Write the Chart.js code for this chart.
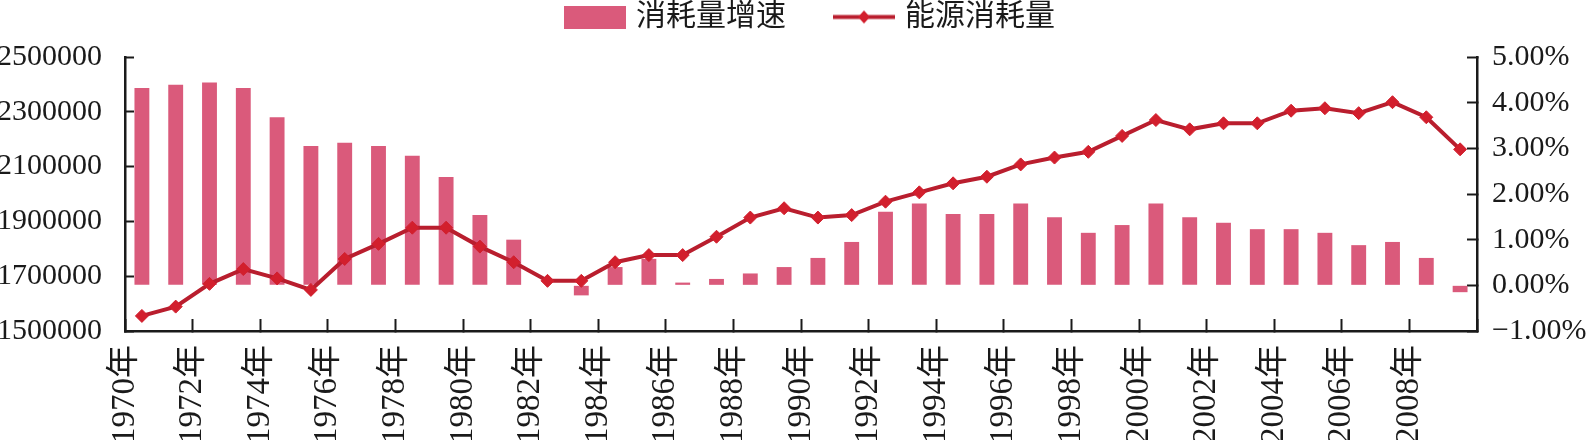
<!DOCTYPE html>
<html>
<head>
<meta charset="utf-8">
<script src="https://cdn.jsdelivr.net/npm/chart.js@4/dist/chart.umd.min.js"></script>
<style>
  html, body { margin: 0; padding: 0; background: #fff; overflow: hidden; }
  #wrap { width: 1586px; height: 440px; }
</style>
</head>
<body>
<div id="wrap"><canvas id="energyChart" width="1586" height="440"></canvas></div>
<script>
// years 1970 - 2009
const years = [
  1970, 1971, 1972, 1973, 1974, 1975, 1976, 1977, 1978, 1979,
  1980, 1981, 1982, 1983, 1984, 1985, 1986, 1987, 1988, 1989,
  1990, 1991, 1992, 1993, 1994, 1995, 1996, 1997, 1998, 1999,
  2000, 2001, 2002, 2003, 2004, 2005, 2006, 2007, 2008, 2009
];

// 消耗量增速 (%), right axis
const growth = [
  4.32, 4.39, 4.44, 4.32, 3.68, 3.05, 3.12, 3.05, 2.84, 2.37,
  1.54, 1.00, 0.00, -0.22, 0.40, 0.58, 0.06, 0.14, 0.26, 0.40,
  0.60, 0.95, 1.61, 1.79, 1.56, 1.56, 1.79, 1.49, 1.15, 1.32,
  1.79, 1.49, 1.37, 1.23, 1.23, 1.15, 0.88, 0.95, 0.60, -0.15
];

// 能源消耗量, left axis
const consumption = [
  1555000, 1589000, 1672000, 1726000, 1692000, 1650000, 1763000, 1818000, 1877000, 1877000,
  1808000, 1751000, 1683000, 1683000, 1751000, 1777000, 1777000, 1844000, 1914000, 1948000,
  1914000, 1923000, 1972000, 2006000, 2039000, 2063000, 2108000, 2133000, 2154000, 2212000,
  2270000, 2236000, 2258000, 2258000, 2304000, 2313000, 2295000, 2335000, 2280000, 2163000
];

const leftTicks = [1500000, 1700000, 1900000, 2100000, 2300000, 2500000];
const rightTicks = [-1, 0, 1, 2, 3, 4, 5];

const barColor = '#da5a7b';
const lineColor = '#b91e2e';
const markColor = '#d21f2d';
const axisColor = '#1a1a1a';
const textColor = '#1a1a1a';
const serif = "'Liberation Serif', 'Noto Sans CJK SC', serif";

// legend swatches
function barSwatch() {
  const c = document.createElement('canvas');
  c.width = 62; c.height = 23;
  const g = c.getContext('2d');
  g.fillStyle = barColor;
  g.fillRect(0, 0, 62, 23);
  return c;
}
function lineSwatch() {
  const c = document.createElement('canvas');
  c.width = 62; c.height = 23;
  const g = c.getContext('2d');
  g.strokeStyle = lineColor;
  g.lineWidth = 4;
  g.beginPath(); g.moveTo(0, 11.5); g.lineTo(62, 11.5); g.stroke();
  g.fillStyle = markColor;
  g.beginPath();
  g.moveTo(31, 5); g.lineTo(37, 11.5); g.lineTo(31, 18); g.lineTo(25, 11.5);
  g.closePath(); g.fill();
  return c;
}
const swatches = [barSwatch(), lineSwatch()];

// keep the legend items wide apart but close to the top edge
const legendSpacing = {
  id: 'legendSpacing',
  afterInit(chart) {
    const legend = chart.legend;
    if (!legend) return;
    const fit = legend.fit;
    legend.fit = function () { fit.call(this); this.height = 57; };
    const inner = legend._draw;
    legend._draw = function () {
      this.ctx.save();
      this.ctx.translate(19, -50);
      inner.call(this);
      this.ctx.restore();
    };
  }
};

const ctx = document.getElementById('energyChart').getContext('2d');

new Chart(ctx, {
  data: {
    labels: years.map(y => y + '年'),
    datasets: [
      {
        type: 'line',
        label: '能源消耗量',
        data: consumption,
        yAxisID: 'yLeft',
        xAxisID: 'x',
        borderColor: lineColor,
        borderWidth: 4,
        pointStyle: 'rectRot',
        pointRadius: 6.5,
        pointBackgroundColor: markColor,
        pointBorderColor: markColor,
        pointBorderWidth: 1,
        tension: 0,
        order: 1
      },
      {
        type: 'bar',
        label: '消耗量增速',
        data: growth,
        yAxisID: 'yRight',
        xAxisID: 'x',
        backgroundColor: barColor,
        categoryPercentage: 1,
        barPercentage: 0.44,
        order: 2
      }
    ]
  },
  plugins: [legendSpacing],
  options: {
    responsive: false,
    animation: false,
    layout: { padding: 0 },
    plugins: {
      tooltip: { enabled: false },
      legend: {
        position: 'top',
        align: 'center',
        labels: {
          usePointStyle: true,
          pointStyleWidth: 52,
          boxHeight: 23,
          padding: 52,
          color: textColor,
          font: { family: serif, size: 30 },
          generateLabels: chart => ['消耗量增速', '能源消耗量'].map((text, i) => ({
            text: text,
            pointStyle: swatches[i],
            fillStyle: 'transparent',
            strokeStyle: 'transparent',
            lineWidth: 0,
            hidden: false,
            datasetIndex: i === 0 ? 1 : 0,
            fontColor: textColor
          }))
        }
      }
    },
    scales: {
      x: {
        type: 'category',
        offset: true,
        display: false
      },
      xYears: {
        type: 'linear',
        position: 'bottom',
        min: 0,
        max: years.length,
        afterBuildTicks: axis => {
          const t = [];
          for (let v = 0; v <= years.length; v += 2) t.push({ value: v });
          axis.ticks = t;
        },
        afterFit: axis => { axis.height = 109; },
        border: { display: true, color: axisColor, width: 2.5 },
        grid: {
          drawOnChartArea: false,
          drawTicks: true,
          tickLength: -12,
          tickColor: axisColor,
          tickWidth: 2
        },
        ticks: {
          autoSkip: false,
          minRotation: 90,
          maxRotation: 90,
          padding: 26,
          color: textColor,
          font: { family: serif, size: 33 },
          callback: v => (v < years.length ? years[v] + '年' : '')
        }
      },
      yLeft: {
        type: 'linear',
        position: 'left',
        min: 1500000,
        max: 2500000,
        afterBuildTicks: axis => { axis.ticks = leftTicks.map(v => ({ value: v })); },
        afterFit: axis => { axis.width = 125; },
        border: { display: true, color: axisColor, width: 2.5 },
        grid: {
          drawOnChartArea: false,
          tickLength: -9,
          tickColor: axisColor,
          tickWidth: 2
        },
        ticks: {
          padding: 32,
          color: textColor,
          font: { family: serif, size: 30 },
          callback: v => String(v)
        }
      },
      yRight: {
        type: 'linear',
        position: 'right',
        min: -1,
        max: 5,
        afterBuildTicks: axis => { axis.ticks = rightTicks.map(v => ({ value: v })); },
        afterFit: axis => { axis.width = 109; },
        border: { display: true, color: axisColor, width: 2.5 },
        grid: {
          drawOnChartArea: false,
          tickLength: -10,
          tickColor: axisColor,
          tickWidth: 2
        },
        ticks: {
          padding: 25,
          color: textColor,
          font: { family: serif, size: 30 },
          callback: v => (v < 0 ? '\u2212' + Math.abs(v).toFixed(2) : v.toFixed(2)) + '%'
        }
      }
    }
  }
});
</script>
</body>
</html>
